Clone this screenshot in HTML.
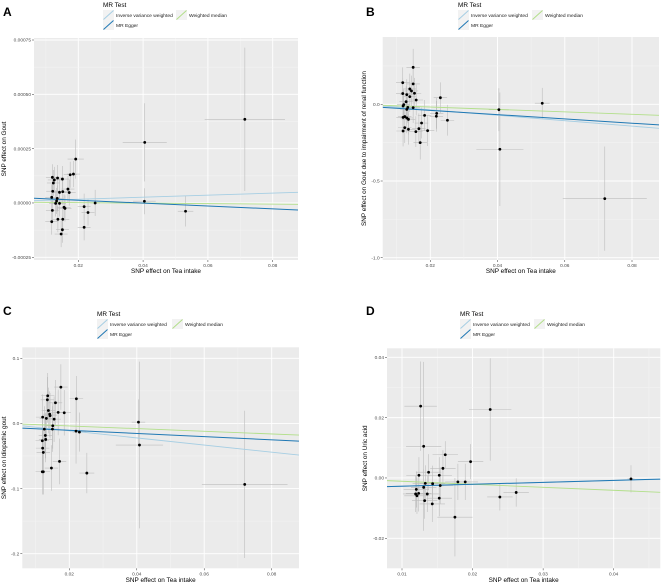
<!DOCTYPE html>
<html><head><meta charset="utf-8"><style>
html,body{margin:0;padding:0;background:#fff;}
svg{display:block;font-family:"Liberation Sans",sans-serif;}
</style></head><body>
<svg id="fig" width="663" height="585" viewBox="0 0 663 585" xmlns="http://www.w3.org/2000/svg"></svg>
<script>
// ---- Panel A data ----
const aX=[0.0120,0.0126,0.0123,0.0136,0.0151,0.0121,0.0142,0.0152,0.0168,0.0172,0.0118,0.0135,0.0133,0.0130,0.0142,0.0156,0.0159,0.0120,0.0137,0.0152,0.0118,0.0151,0.0147,0.0175,0.0185,0.0192,0.0218,0.0230,0.0218,0.0252,0.0405,0.0404,0.0531,0.0714];
const aY=[0.000118,0.000106,0.000092,0.000115,0.000110,0.000054,0.000049,0.000052,0.000064,0.000048,0.000026,0.000021,0.000009,-0.000002,-0.000002,-0.000020,-0.000025,-0.000034,-0.000075,-0.000075,-0.000086,-0.000123,-0.000143,0.000130,0.000133,0.000202,-0.000017,-0.000044,-0.000112,0.000000,0.000279,0.000008,-0.000038,0.000385];
const aXse=[0.002,0.002,0.002,0.002,0.002,0.002,0.002,0.002,0.002,0.002,0.002,0.002,0.002,0.002,0.002,0.002,0.002,0.002,0.002,0.002,0.002,0.002,0.002,0.002,0.002,0.0025,0.002,0.002,0.002,0.0015,0.0068,0.0035,0.0024,0.0124];
const aYse=[0.00006,0.00006,0.00006,0.00006,0.00006,0.00006,0.00006,0.00006,0.00006,0.00006,0.00006,0.00006,0.00006,0.00006,0.00006,0.00006,0.00006,0.00006,0.00006,0.00006,0.00006,0.00006,0.00006,0.00006,0.00006,0.00009,0.00006,0.00006,0.00006,0.00006,0.00018,0.00006,0.00007,0.00033];
const aSlope=[0.00047,-0.00066,-0.00011];      // IVW, Egger, WM
const aIntercept=[0.0000077,0.0000257,0.0000037];
const aXTicks=[0.02,0.04,0.06,0.08];
const aXTickLabels=["0.02","0.04","0.06","0.08"];
const aYTicks=[0.00075,0.0005,0.00025,0,-0.00025];
const aYTickLabels=["0.00075","0.00050","0.00025","0.00000","-0.00025"];

// ---- Panel B data ----
const bX=[0.0149,0.0118,0.0149,0.0139,0.0144,0.0118,0.0130,0.0153,0.0139,0.0158,0.0128,0.0121,0.0119,0.0133,0.0149,0.0130,0.0119,0.0124,0.0130,0.0135,0.0183,0.0119,0.0124,0.0135,0.0157,0.0166,0.0192,0.0170,0.0174,0.0219,0.0218,0.0230,0.0251,0.0404,0.0407,0.0533,0.0719];
const bY=[0.241,0.141,0.133,0.100,0.087,0.070,0.063,0.072,0.050,0.028,0.017,-0.002,-0.011,-0.020,-0.022,-0.033,-0.085,-0.080,-0.089,-0.098,-0.072,-0.174,-0.152,-0.163,-0.178,-0.159,-0.172,-0.250,-0.122,-0.059,-0.078,0.043,-0.104,-0.035,-0.293,0.007,-0.615];
const bXse=[0.002,0.002,0.002,0.002,0.002,0.002,0.002,0.002,0.002,0.002,0.002,0.002,0.002,0.002,0.002,0.002,0.002,0.002,0.002,0.002,0.002,0.002,0.002,0.002,0.002,0.002,0.002,0.002,0.002,0.002,0.002,0.002,0.002,0.003,0.007,0.0022,0.0125];
const bYse=[0.12,0.1,0.1,0.1,0.1,0.1,0.1,0.1,0.1,0.1,0.1,0.1,0.1,0.1,0.1,0.1,0.1,0.1,0.1,0.1,0.1,0.1,0.1,0.1,0.1,0.1,0.1,0.11,0.1,0.1,0.1,0.1,0.1,0.14,0.37,0.1,0.34];
const bSlope=[-1.77,-1.397,-0.79];
const bIntercept=[-0.0007,-0.0115,-0.002];
const bXTicks=[0.02,0.04,0.06,0.08];
const bXTickLabels=["0.02","0.04","0.06","0.08"];
const bYTicks=[0,-0.5,-1.0];
const bYTickLabels=["0.0","-0.5","-1.0"];

// ---- Panel C data ----
const cX=[0.0175,0.0136,0.0135,0.0221,0.0159,0.0138,0.0167,0.0185,0.0142,0.0143,0.0132,0.0121,0.0155,0.0151,0.0126,0.0129,0.0130,0.0120,0.0121,0.0123,0.0171,0.0147,0.0120,0.0123,0.0252,0.0220,0.0230,0.0150,0.0405,0.0408,0.0720];
const cY=[0.0558,0.0425,0.0363,0.0379,0.0317,0.0199,0.0169,0.0164,0.0143,0.0118,0.0077,0.0097,0.0066,-0.0036,-0.0087,-0.0184,-0.0246,-0.0266,-0.0379,-0.0445,-0.0583,-0.0685,-0.0742,-0.0742,-0.0762,-0.0118,-0.0133,-0.0087,0.0020,-0.0332,-0.0936];
const cXse=[0.002,0.002,0.002,0.002,0.002,0.002,0.002,0.002,0.002,0.002,0.002,0.002,0.002,0.002,0.002,0.002,0.002,0.002,0.002,0.002,0.002,0.002,0.002,0.002,0.0022,0.002,0.002,0.002,0.002,0.007,0.0127];
const cYse=[0.035,0.035,0.035,0.035,0.035,0.035,0.035,0.035,0.035,0.035,0.035,0.035,0.035,0.035,0.035,0.035,0.035,0.035,0.035,0.035,0.035,0.035,0.035,0.035,0.031,0.05,0.03,0.035,0.035,0.128,0.113];
const cSlope=[-0.548,-0.243,-0.205];
const cIntercept=[-0.0003,-0.00569,0.00024];
const cXTicks=[0.02,0.04,0.06,0.08];
const cXTickLabels=["0.02","0.04","0.06","0.08"];
const cYTicks=[0.1,0,-0.1,-0.2];
const cYTickLabels=["0.1","0.0","-0.1","-0.2"];

// ---- Panel D data ----
const dX=[0.01264,0.01307,0.0225,0.01613,0.01972,0.0158,0.01377,0.0124,0.01528,0.01434,0.0133,0.01792,0.01896,0.01542,0.01307,0.01203,0.01358,0.01236,0.01193,0.01212,0.01321,0.01528,0.01429,0.0175,0.02387,0.02618,0.04245];
const dY=[0.0238,0.0105,0.0227,0.0077,0.0054,0.0032,0.0019,0.0009,0.0009,-0.0019,-0.0018,-0.0013,-0.0013,-0.0025,-0.0031,-0.0038,-0.0053,-0.0051,-0.0053,-0.0059,-0.0075,-0.0067,-0.0086,-0.0130,-0.0063,-0.0048,-0.0003];
const dXse=[0.0023,0.0025,0.003,0.0018,0.0018,0.0018,0.0018,0.0018,0.0018,0.0018,0.0018,0.0018,0.0018,0.0018,0.0018,0.0018,0.0018,0.0018,0.0018,0.0018,0.0018,0.0018,0.0018,0.0025,0.0018,0.0018,0.0005];
const dYse=[0.0148,0.028,0.017,0.0045,0.0058,0.006,0.006,0.006,0.006,0.006,0.006,0.006,0.006,0.006,0.006,0.006,0.006,0.006,0.006,0.006,0.006,0.006,0.006,0.013,0.0045,0.0047,0.0045];
const dSlope=[0.063,0.065,-0.1];
const dIntercept=[-0.00337,-0.0034,-0.00009];
const dXTicks=[0.01,0.02,0.03,0.04];
const dXTickLabels=["0.01","0.02","0.03","0.04"];
const dYTicks=[0.04,0.02,0,-0.02];
const dYTickLabels=["0.04","0.02","0.00","-0.02"];

const NS="http://www.w3.org/2000/svg";
const svg=document.getElementById('fig');
function mk(tag,attrs,parent){const e=document.createElementNS(NS,tag);for(const k in attrs)e.setAttribute(k,attrs[k]);(parent||svg).appendChild(e);return e;}
const lineColors=["#a6cee3","#1f78b4","#b2df8a"];

function drawPanel(p){
  const g=mk('g',{});
  
  
  const sx=v=>p.xp0+(v-p.xv0)*(p.xp1-p.xp0)/(p.xv1-p.xv0);
  const sy=v=>p.yp0+(v-p.yv0)*(p.yp1-p.yp0)/(p.yv1-p.yv0);
  const ivx=px=>p.xv0+(px-p.xp0)*(p.xv1-p.xv0)/(p.xp1-p.xp0);
  const ivy=py=>p.yv0+(py-p.yp0)*(p.yv1-p.yv0)/(p.yp1-p.yp0);
  const bg=mk('rect',{x:p.L,y:p.T,width:p.R-p.L,height:p.B-p.T,fill:'#ebebeb'},g);
  
  
  const clipId='clip'+p.id;
  const cp=mk('clipPath',{id:clipId},g);
  mk('rect',{x:p.L,y:p.T,width:p.R-p.L,height:p.B-p.T},cp);
  // grid
  const xs=p.xTicks[1]-p.xTicks[0], ys=p.yTicks[0]-p.yTicks[1];
  const gx0=p.xTicks[0]-xs*4, gy0=p.yTicks[p.yTicks.length-1]-ys*4;
  for(let k=0;k<20;k++){
    const vx=gx0+k*xs/2, px=sx(vx);
    if(px>p.L&&px<p.R) mk('line',{x1:px,x2:px,y1:p.T,y2:p.B,stroke:k%2?'#f4f4f4':'#fff','stroke-width':k%2?0.5:0.9},g);
    const vy=gy0+k*ys/2, py=sy(vy);
    if(py>p.T&&py<p.B) mk('line',{x1:p.L,x2:p.R,y1:py,y2:py,stroke:k%2?'#f4f4f4':'#fff','stroke-width':k%2?0.5:0.9},g);
  }
  // error bars
  const eg=mk('g',{'clip-path':'url(#'+clipId+')'},g);
  for(let i=0;i<p.x.length;i++){
    const h=mk('line',{x1:sx(p.x[i]-p.xse[i]),x2:sx(p.x[i]+p.xse[i]),y1:sy(p.y[i]),y2:sy(p.y[i]),stroke:'#bdbdbd','stroke-width':0.6},eg);
    
    
    const v=mk('line',{x1:sx(p.x[i]),x2:sx(p.x[i]),y1:sy(p.y[i]-p.yse[i]),y2:sy(p.y[i]+p.yse[i]),stroke:'#bdbdbd','stroke-width':0.6},eg);
    
    
  }
  // regression lines
  const names=['ivw-line','mr-egger-line','weighted-median-line'];
  [0,2,1].forEach(j=>{
    const x0=ivx(p.L), x1=ivx(p.R);
    const l=mk('line',{x1:p.L,x2:p.R,y1:sy(p.int[j]+p.slope[j]*x0),y2:sy(p.int[j]+p.slope[j]*x1),stroke:lineColors[j],'stroke-width':j==1?1:0.9},eg);
    
    
  });
  // points
  for(let i=0;i<p.x.length;i++){
    const c=mk('circle',{cx:sx(p.x[i]),cy:sy(p.y[i]),r:1.4,fill:'#000'},eg);
    
    
  }
  // ticks
  p.xTicks.forEach((v,i)=>{
    const px=sx(v);
    mk('line',{x1:px,x2:px,y1:p.B,y2:p.B+2,stroke:'#333','stroke-width':0.5},g);
    const t=mk('text',{x:px,y:p.B+7,'font-size':4.8,fill:'#4d4d4d','text-anchor':'middle'},g);
    t.textContent=p.xLabels[i];
    
    
  });
  p.yTicks.forEach((v,i)=>{
    const py=sy(v);
    mk('line',{x1:p.L-2,x2:p.L,y1:py,y2:py,stroke:'#333','stroke-width':0.5},g);
    const t=mk('text',{x:p.L-3,y:py+1.7,'font-size':4.8,fill:'#4d4d4d','text-anchor':'end'},g);
    t.textContent=p.yLabels[i];
    
    
  });
  // axis titles
  const xt=mk('text',{x:(p.L+p.R)/2,y:p.xTitleY,'font-size':6.4,fill:'#000','text-anchor':'middle'},g);
  xt.textContent='SNP effect on Tea intake';
  
  
  const yc=(p.T+p.B)/2;
  const yt=mk('text',{x:p.yTitleX,y:yc,'font-size':6.4,fill:'#000','text-anchor':'middle',transform:'rotate(-90 '+p.yTitleX+' '+yc+')'},g);
  yt.textContent=p.yTitle;
  
  
  // panel letter
  const lt=mk('text',{x:p.letterX,y:p.letterY,'font-size':12,'font-weight':'bold',fill:'#000'},g);
  lt.textContent=p.id;
  
  
  // legend
  const lg=mk('g',{},g);
  
  
  const lt2=mk('text',{x:p.legX,y:p.legY,'font-size':6.4,fill:'#000'},lg);
  lt2.textContent='MR Test';
  const entries=[[0,p.legX,p.legY+3,'Inverse variance weighted'],[1,p.legX,p.legY+13,'MR Egger'],[2,p.legX+p.legCol2,p.legY+3,'Weighted median']];
  entries.forEach(e=>{
    const eg2=mk('g',{},lg);
    
    
    mk('rect',{x:e[1],y:e[2],width:11,height:10,fill:'#f2f2f2'},eg2);
    mk('line',{x1:e[1]+0.5,y1:e[2]+9.5,x2:e[1]+10.5,y2:e[2]+0.5,stroke:lineColors[e[0]],'stroke-width':1},eg2);
    const tx=mk('text',{x:e[1]+13,y:e[2]+6.8,'font-size':4.9,fill:'#1a1a1a'},eg2);
    tx.textContent=e[3];
  });
}

drawPanel({id:'A',L:34,R:298,T:38,B:260,xv0:0.02,xp0:78.3,xv1:0.08,xp1:272.7,yv0:0.00075,yp0:40,yv1:-0.00025,yp1:257.3,
  x:aX,y:aY,xse:aXse,yse:aYse,slope:aSlope,int:aIntercept,xTicks:aXTicks,xLabels:aXTickLabels,yTicks:aYTicks,yLabels:aYTickLabels,
  xTitleY:273,yTitleX:6,yTitle:'SNP effect on Gout',letterX:3,letterY:16,legX:103,legY:7,legCol2:73});
drawPanel({id:'B',L:382.7,R:659,T:37,B:260,xv0:0.02,xp0:430.3,xv1:0.08,xp1:632,yv0:0,yp0:104.3,yv1:-1,yp1:257.7,
  x:bX,y:bY,xse:bXse,yse:bYse,slope:bSlope,int:bIntercept,xTicks:bXTicks,xLabels:bXTickLabels,yTicks:bYTicks,yLabels:bYTickLabels,
  xTitleY:273,yTitleX:366,yTitle:'SNP effect on Gout due to impairment of renal function',letterX:366,letterY:16,legX:458,legY:7,legCol2:74});
drawPanel({id:'C',L:22.3,R:299,T:347.3,B:568.3,xv0:0.02,xp0:69.3,xv1:0.08,xp1:271.7,yv0:0.1,yp0:358.3,yv1:-0.2,yp1:553.7,
  x:cX,y:cY,xse:cXse,yse:cYse,slope:cSlope,int:cIntercept,xTicks:cXTicks,xLabels:cXTickLabels,yTicks:cYTicks,yLabels:cYTickLabels,
  xTitleY:582,yTitleX:6,yTitle:'SNP effect on Idiopathic gout',letterX:3,letterY:315,legX:97,legY:316,legCol2:75});
drawPanel({id:'D',L:387,R:660.3,T:348.3,B:568.3,xv0:0.01,xp0:402,xv1:0.04,xp1:613.7,yv0:0.04,yp0:357.3,yv1:-0.02,yp1:538.3,
  x:dX,y:dY,xse:dXse,yse:dYse,slope:dSlope,int:dIntercept,xTicks:dXTicks,xLabels:dXTickLabels,yTicks:dYTicks,yLabels:dYTickLabels,
  xTitleY:582,yTitleX:367,yTitle:'SNP effect on Uric acid',letterX:366,letterY:315,legX:460,legY:316,legCol2:74});
</script>
</body></html>
